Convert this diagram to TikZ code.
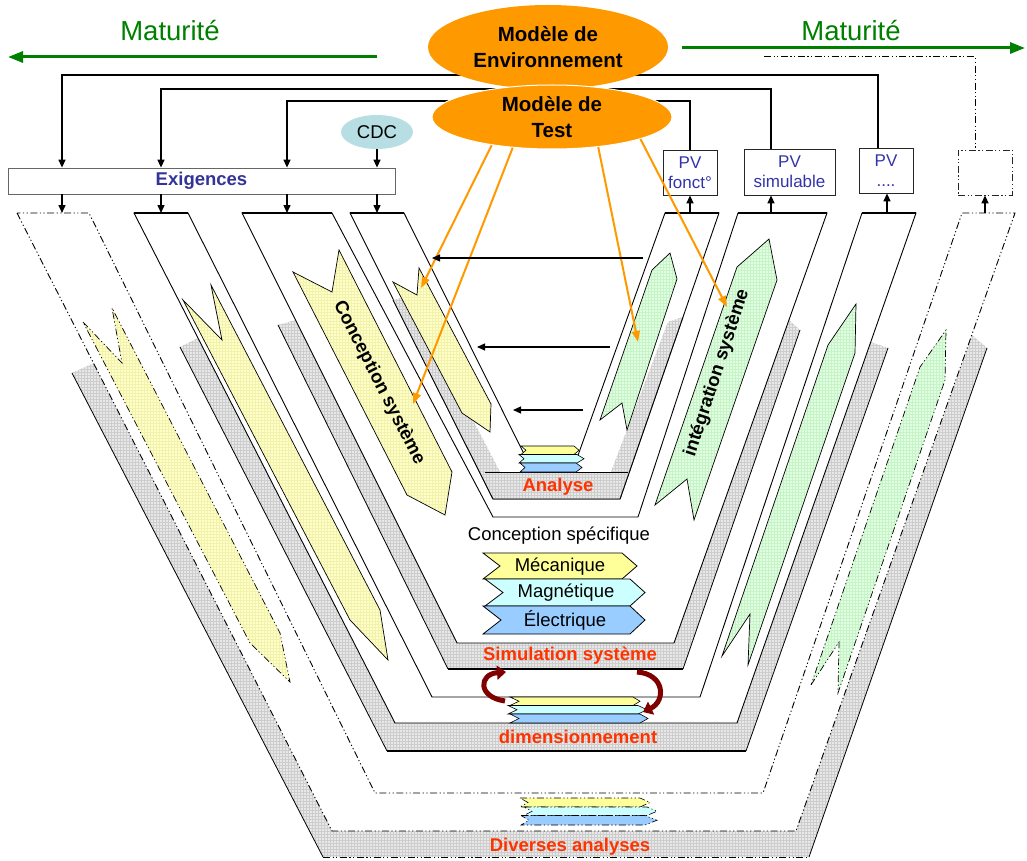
\documentclass[tikz,border=0pt]{standalone}
\usepackage{fontspec}
\setmainfont{Liberation Sans}
\usetikzlibrary{arrows.meta,patterns,shapes.geometric}

\definecolor{matgreen}{RGB}{0,128,0}
\definecolor{modorange}{RGB}{255,153,0}
\definecolor{cdcblue}{RGB}{183,222,226}
\definecolor{exigblue}{RGB}{51,51,153}
\definecolor{pvblue}{RGB}{51,51,170}
\definecolor{labred}{RGB}{255,51,0}
\definecolor{yelfill}{RGB}{255,255,204}
\definecolor{yelgrid}{RGB}{242,242,170}
\definecolor{grnfill}{RGB}{224,255,224}
\definecolor{grngrid}{RGB}{200,242,200}
\definecolor{chyel}{RGB}{255,255,153}
\definecolor{chcyan}{RGB}{204,255,255}
\definecolor{chblue}{RGB}{153,204,255}
\definecolor{arcred}{RGB}{128,0,0}
\definecolor{skirtgray}{RGB}{232,232,232}
\definecolor{skirtgrid}{RGB}{205,205,205}

% chevron strip: left x, right x, top y, bottom y, notch depth, tip length, style
\newcommand\chevstrip[7]{%
  \path[#7] (#1,#3) -- (#2,#3) -- ({#2+#6},{(#3+#4)/2}) -- (#2,#4)
    -- (#1,#4) -- ({#1+#5},{(#3+#4)/2}) -- cycle;}

\begin{document}
\begin{tikzpicture}[x=1pt, y=-1pt,
  outl/.style={draw=black, line width=0.9pt},
  thinl/.style={draw=black, line width=0.8pt},
  topl/.style={draw=black, line width=1.6pt},
  botl/.style={draw=black, line width=1.4pt},
  dd/.style={dash pattern=on 7pt off 2.5pt on 1.2pt off 2.5pt on 1.2pt off 2.5pt},
  skirt/.style={preaction={fill=skirtgray}, pattern=grid, pattern color=skirtgrid},
  yarr/.style={preaction={fill=yelfill}, pattern=grid, pattern color=yelgrid, draw=black, line width=0.7pt},
  garr/.style={preaction={fill=grnfill}, pattern=grid, pattern color=grngrid, draw=black, line width=0.7pt},
  link/.style={draw=black, line width=1.4pt},
  tip/.style={-{Triangle[length=8pt,width=7pt]}},
  orng/.style={draw=modorange, line width=2pt, -{Triangle[length=11pt,width=8pt]}},
  lab/.style={font=\fontsize{18.5}{21}\selectfont\bfseries, text=labred, inner sep=0pt},
  txt/.style={font=\fontsize{18.5}{21}\selectfont, inner sep=0pt},
  chv/.style={draw=black, line width=0.6pt},
  pvbox/.style={draw=black!85, fill=white, line width=0.8pt, align=center, text=pvblue,
    font=\fontsize{17}{20}\selectfont, inner sep=0pt},
]
\useasboundingbox (0,0) rectangle (1027,861);
\fill[white] (0,0) rectangle (1027,861);

% ---------- level 4 : various analyses (dash-dotted) ----------
\path[skirt] (72,373) -- (94,363) -- (332,831) -- (796,831) -- (972,335) -- (987,348)
  -- (809,857) -- (323,857) -- cycle;
\draw[thinl] (72,373) -- (323,857);
\draw[thinl] (987,348) -- (809,857);
\draw[thinl, dd] (323,857) -- (809,857);
\draw[outl, dd, fill=white] (17,213) -- (332,831) -- (796,831) -- (1015,213) -- (962,213)
  -- (763,793) -- (375,793) -- (89,213) -- cycle;

% ---------- level 3 : sizing ----------
\path[skirt] (180,347) -- (198,338) -- (395,723) -- (737,723) -- (871,342) -- (888,348)
  -- (746,751) -- (387,751) -- cycle;
\draw[thinl] (180,347) -- (387,751);
\draw[thinl] (888,348) -- (746,751);
\draw[botl] (387,751) -- (746,751);
\draw[outl, fill=white] (134,213) -- (395,723) -- (737,723) -- (916,213) -- (862,213)
  -- (700,697) -- (432,697) -- (188,213) -- cycle;
\draw[topl] (134,213) -- (188,213) (862,213) -- (916,213);

% ---------- level 2 : system simulation ----------
\path[skirt] (278,325) -- (296,320) -- (457,643) -- (674,643) -- (789,320) -- (800,330)
  -- (683,669) -- (448,669) -- cycle;
\draw[thinl] (278,325) -- (448,669);
\draw[thinl] (800,330) -- (683,669);
\draw[botl] (448,669) -- (683,669);
\draw[outl, fill=white] (242,213) -- (457,643) -- (674,643) -- (827,213) -- (738,213)
  -- (638,517) -- (493,517) -- (332,213) -- cycle;
\draw[topl] (242,213) -- (332,213) (738,213) -- (827,213);

% ---------- level 1 : analysis ----------
\draw[outl, fill=white] (350,213) -- (493,499) -- (620,499) -- (719,213) -- (665,213)
  -- (572,472) -- (533,472) -- (404,213) -- cycle;
\path[skirt] (393,300) -- (408,296) -- (500,472) -- (611,472) -- (668,322) -- (683,317)
  -- (620,499) -- (493,499) -- cycle;
\draw[outl] (393,300) -- (493,499) -- (620,499) -- (683,317);
\draw[thinl] (485,472) -- (628,472);
\draw[topl] (350,213) -- (404,213) (665,213) -- (719,213);

% ---------- descending (design) arrows ----------
\path[yarr, dd] (83,322) -- (122,363) -- (112,308) -- (280,633) -- (290,682) -- (250,643) -- cycle;
\path[yarr] (183,300) -- (222,340) -- (211,285) -- (380,610) -- (388,660) -- (350,620) -- cycle;
\path[yarr] (293,272) -- (332,292) -- (339,250) -- (452,472) -- (445,515) -- (407,495) -- cycle;
\path[yarr] (393,282) -- (417,295) -- (419,268) -- (491,404) -- (490,432) -- (462,413) -- cycle;

% ---------- ascending (integration) arrows ----------
\path[garr] (600,420) -- (622,403) -- (627,430) -- (677,279) -- (670,253) -- (652,270) -- cycle;
\path[garr] (655,505) -- (687,479) -- (694,520) -- (777,280) -- (769,239) -- (737,267) -- cycle;
\path[garr] (722,656) -- (750,614) -- (748,665) -- (855,353) -- (856,304) -- (828,345) -- cycle;
\path[garr, dd] (811,685) -- (839,642) -- (838,693) -- (945,380) -- (946,330) -- (920,367) -- cycle;

\node[font=\fontsize{18.5}{20}\selectfont\bfseries, rotate=-63, inner sep=0pt] (consys) at (379,383) {Conception système};
\node[font=\fontsize{18.5}{20}\selectfont\bfseries, rotate=72, inner sep=0pt] (integ) at (717,373) {intégration système};

% ---------- level labels ----------
\node[lab] (analyse) at (558,487) {Analyse};
\node[lab] (simsys) at (570,656) {Simulation système};
\node[lab] (dimens) at (578,737) {dimensionnement};
\node[lab] (divers) at (570,847) {Diverses analyses};

% ---------- stacked domain strips ----------
\chevstrip{521}{574}{446}{454.5}{5}{5}{fill=chyel, chv}
\chevstrip{519}{577}{454.5}{463}{5}{7}{fill=chcyan, chv}
\chevstrip{520}{576}{463}{472}{5}{6}{fill=chblue, chv}

\node[txt] (cspec) at (559,536) {Conception spécifique};
\chevstrip{483}{622}{553}{579}{17}{15}{fill=chyel, chv, line width=0.8pt}
\chevstrip{485}{630}{579}{606}{18}{15}{fill=chcyan, chv, line width=0.8pt}
\chevstrip{483}{630}{606}{634}{18}{15}{fill=chblue, chv, line width=0.8pt}
\node[txt] (meca) at (560,567) {Mécanique};
\node[txt] (magn) at (566,593) {Magnétique};
\node[txt] (elec) at (565,620) {Électrique};

\chevstrip{510}{633}{697}{705.5}{9}{7}{fill=chyel, chv}
\chevstrip{508}{638}{705.5}{714}{9}{9}{fill=chcyan, chv}
\chevstrip{510}{640}{714}{723}{9}{8}{fill=chblue, chv}

\chevstrip{520}{640}{798}{807}{8}{10}{fill=chyel, chv, dd}
\chevstrip{524}{647}{807}{815.5}{8}{10}{fill=chcyan, chv, dd}
\chevstrip{521}{645}{815.5}{825}{8}{12}{fill=chblue, chv, dd}

% ---------- iteration arrows ----------
\coordinate (ita) at (505,701);
\coordinate (itb) at (506,672);
\coordinate (itc) at (637,672);
\coordinate (itd) at (643,712);
\draw[arcred, line width=5pt, -{Triangle[length=9pt,width=14pt]}]
  (ita) .. controls (477,697) and (479,674) .. (itb);
\draw[arcred, line width=5pt, -{Triangle[length=9pt,width=14pt]}]
  (itc) .. controls (665,674) and (666,701) .. (itd);

% ---------- requirements, specification, reports ----------
\node[draw=black!60, fill=white, line width=0.8pt, minimum width=387pt, minimum height=26pt,
  inner sep=0pt, font=\fontsize{18.5}{21}\selectfont\bfseries, text=exigblue] (exig) at (201.5,181) {Exigences};
\node[ellipse, fill=cdcblue, minimum width=72pt, minimum height=34pt, inner sep=0pt, txt] (cdc) at (377,132) {CDC};
\node[pvbox, minimum width=54pt, minimum height=45pt] (pvf) at (690,172.5) {PV\\fonct°};
\node[pvbox, minimum width=91pt, minimum height=46pt] (pvs) at (789.5,172) {PV\\simulable};
\node[pvbox, minimum width=54pt, minimum height=45pt] (pvd) at (886,170.5) {PV\\....};
\node[pvbox, dd, minimum width=54pt, minimum height=45pt] (pvx) at (985,172.5) {};

% arm tops
\coordinate (v4l) at (62,213);
\coordinate (v3l) at (161,213);
\coordinate (v2l) at (287,213);
\coordinate (v1l) at (377,213);
\coordinate (v1r) at (690,213);
\coordinate (v2r) at (771,213);
\coordinate (v3r) at (887,213);
\coordinate (v4r) at (985,213);

\draw[link, tip] (cdc.south) -- (exig.north -| cdc.south);
\draw[link, tip] (exig.south -| v4l) -- (v4l);
\draw[link, tip] (exig.south -| v3l) -- (v3l);
\draw[link, tip] (exig.south -| v2l) -- (v2l);
\draw[link, tip] (exig.south -| v1l) -- (v1l);
\draw[link, tip] (v1r) -- (pvf.south);
\draw[link, tip] (v2r) -- (pvs.south -| v2r);
\draw[link, tip] (v3r) -- (pvd.south -| v3r);
\draw[link, tip] (v4r) -- (pvx.south -| v4r);

% ---------- model links (behind the ellipses) ----------
\coordinate (envc) at (548,47);
\coordinate (testc) at (552,117);
\draw[link, tip] (envc |- 0,75) -| (exig.north -| 62,0);
\draw[link, tip] (testc |- 0,89) -| (exig.north -| 161,0);
\draw[link, tip] (testc |- 0,101) -| (exig.north -| 287,0);
\draw[link] (envc |- 0,75) -| (pvd.north -| 878,0);
\draw[link] (testc |- 0,89) -| (pvs.north -| 771,0);
\draw[link] (testc |- 0,101) -| (pvf.north);
\coordinate (ddstart) at (764,57);
\draw[link, line width=1pt, dd] (ddstart) -| (pvx.north -| 975,0);

\node[ellipse, fill=modorange, minimum width=240pt, minimum height=84pt, inner sep=0pt, align=center,
  font=\fontsize{20.5}{25.5}\selectfont\bfseries] (env) at (envc) {Modèle de\\Environnement};
\node[ellipse, fill=modorange, draw=white, line width=1pt, minimum width=240pt, minimum height=64pt,
  inner sep=0pt, align=center, font=\fontsize{20.5}{26.5}\selectfont\bfseries] (test) at (testc) {Modèle de\\Test};

% ---------- maturity arrows ----------
\node[font=\fontsize{27.5}{31}\selectfont, text=matgreen, inner sep=0pt] (matl) at (170,31) {Maturité};
\node[font=\fontsize{27.5}{31}\selectfont, text=matgreen, inner sep=0pt] (matr) at (851,31) {Maturité};
\coordinate (mls) at (377,57);
\coordinate (mle) at (8,57);
\coordinate (mrs) at (682,48);
\coordinate (mre) at (1025,48);
\draw[matgreen, line width=3pt, -{Triangle[length=15pt,width=11pt]}] (mls) -- (mle);
\draw[matgreen, line width=3pt, -{Triangle[length=15pt,width=11pt]}] (mrs) -- (mre);

% ---------- test model towards the V ----------
\coordinate (oa1) at (421,288);
\coordinate (oa2) at (413,404);
\coordinate (oa3) at (638,342);
\coordinate (oa4) at (727,307);
\draw[orng] (test.205) -- (oa1);
\draw[orng] (test.218) -- (oa2);
\draw[orng] (test.327) -- (oa3);
\draw[orng] (test.346) -- (oa4);

% ---------- feedback inside the analysis level ----------
\coordinate (ha1) at (643,258);
\coordinate (hb1) at (432,258);
\coordinate (ha2) at (610,347);
\coordinate (hb2) at (477,347);
\coordinate (ha3) at (583,410);
\coordinate (hb3) at (513,410);
\draw[link, line width=1.2pt, tip] (ha1) -- (hb1);
\draw[link, line width=1.2pt, tip] (ha2) -- (hb2);
\draw[link, line width=1.2pt, tip] (ha3) -- (hb3);
\end{tikzpicture}
\end{document}
